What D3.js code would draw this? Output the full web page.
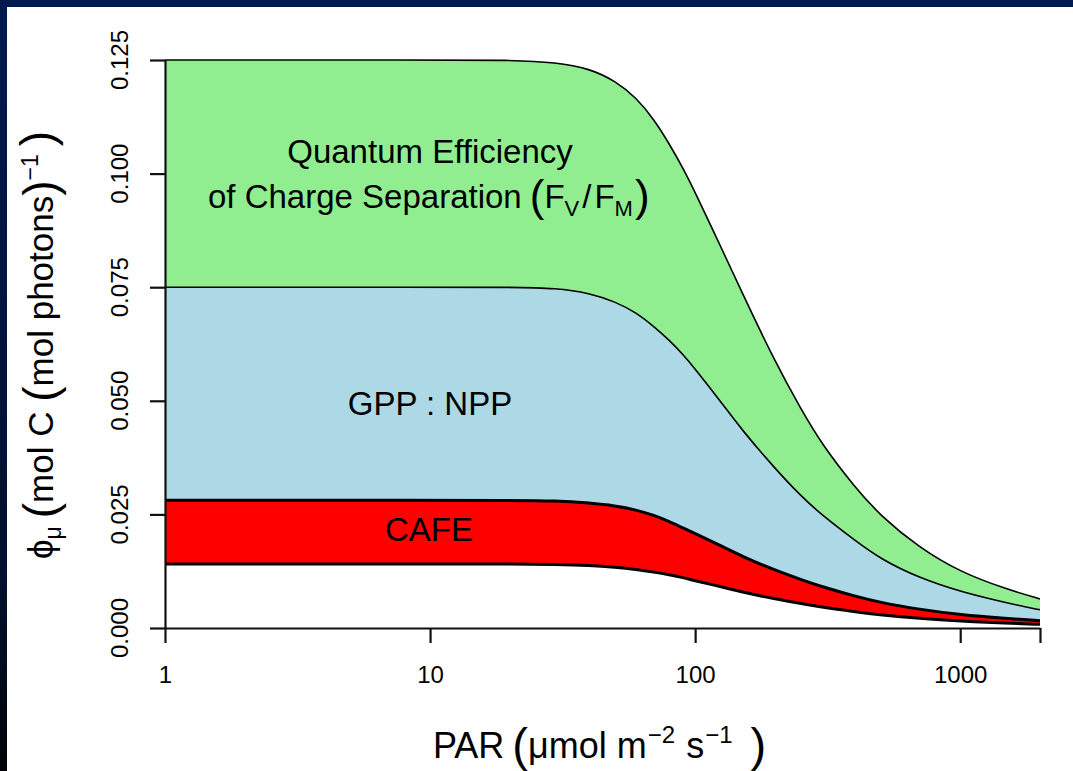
<!DOCTYPE html>
<html><head><meta charset="utf-8">
<script src="https://cdn.jsdelivr.net/npm/d3@7"></script>
<style>
body{margin:0;background:#fff}
svg{display:block}
text{font-family:"Liberation Sans",Arial,Helvetica,sans-serif;fill:#000}
</style></head>
<body><svg id="c" width="1073" height="771"></svg>
<script>
// ---- data ----
const par        = [1, 10, 20, 30, 40, 50, 60, 70, 80, 90, 100, 125, 150, 200, 250, 300, 400, 500, 700, 1000, 1500, 2000];
const fvfm       = [0.1250,0.1250,0.1250,0.1245,0.1231,0.1204,0.1167,0.1119,0.1065,0.1012,0.0959,0.0839,0.0739,0.0586,0.0483,0.0405,0.0310,0.0247,0.0177,0.0123,0.0085,0.0064];
const gppnpp     = [0.0750,0.0750,0.0750,0.0748,0.0737,0.0718,0.0694,0.0663,0.0633,0.0602,0.0570,0.0498,0.0436,0.0351,0.0291,0.0249,0.0193,0.0152,0.0110,0.0080,0.0055,0.0040];
const cafeTop    = [0.0281,0.0281,0.0281,0.0280,0.0275,0.0269,0.0260,0.0248,0.0234,0.0220,0.0208,0.0181,0.0158,0.0127,0.0107,0.0091,0.0070,0.0056,0.0041,0.0029,0.0021,0.0016];
const cafeBottom = [0.0141,0.0141,0.0141,0.0140,0.0138,0.0134,0.0129,0.0123,0.0117,0.0111,0.0104,0.0091,0.0079,0.0064,0.0054,0.0046,0.0036,0.0029,0.0021,0.0015,0.0011,0.0008];
const yTicks      = [0, 0.025, 0.05, 0.075, 0.1, 0.125];
const yTickLabels = ["0.000","0.025","0.050","0.075","0.100","0.125"];
const xTicks      = [1, 10, 100, 1000, 2000];
const xTickLabels = ["1","10","100","1000",""];

const svg = d3.select("#c");
// frame
const defs = svg.append("defs");
const g1 = defs.append("linearGradient").attr("id","lg").attr("x1",0).attr("y1",0).attr("x2",0).attr("y2",1);
g1.append("stop").attr("offset","0%").attr("stop-color","#001a50");
g1.append("stop").attr("offset","75%").attr("stop-color","#00102e");
g1.append("stop").attr("offset","100%").attr("stop-color","#000308");
svg.append("rect").attr("width",1073).attr("height",771).attr("fill","#fff");
svg.append("rect").attr("width",1073).attr("height",7).attr("fill","#001a50");
svg.append("rect").attr("width",7).attr("height",771).attr("fill","url(#lg)");

const x = d3.scaleLog().domain([1,2000]).range([165,1040]);
const y = d3.scaleLinear().domain([0,0.125]).range([628,60]);

function area(vals, color){
  const a = d3.area().x((d,i)=>x(par[i])).y0(y(0)).y1(d=>y(d)).curve(d3.curveBasis);
  svg.append("path").attr("d",a(vals)).attr("fill",color);
}
function line(vals, w){
  const l = d3.line().x((d,i)=>x(par[i])).y(d=>y(d)).curve(d3.curveBasis);
  svg.append("path").attr("d",l(vals)).attr("fill","none").attr("stroke","#000").attr("stroke-width",w);
}
area(fvfm,"#90EE90");
area(gppnpp,"#ADD8E6");
area(cafeTop,"#FF0000");
area(cafeBottom,"#FFFFFF");
line(fvfm,1.6);
line(gppnpp,1.6);
line(cafeTop,3);
line(cafeBottom,3);

// axes
const ya = svg.append("g").attr("transform","translate(165,0)")
  .call(d3.axisLeft(y).tickValues(yTicks).tickSize(15).tickSizeOuter(0).tickFormat(""));
const xa = svg.append("g").attr("transform","translate(0,628)")
  .call(d3.axisBottom(x).tickValues(xTicks).tickSize(15).tickSizeOuter(0).tickPadding(23)
    .tickFormat((d,i)=>xTickLabels[i]));
[ya,xa].forEach(a=>{
  a.selectAll("path,line").attr("stroke","#111").attr("stroke-width",2.2);
  a.selectAll("text").attr("font-size",24).attr("font-family","Liberation Sans, Arial, sans-serif").attr("fill","#000");
});
svg.append("g").selectAll("text").data(yTicks).join("text")
  .attr("transform",d=>`translate(128,${y(d)}) rotate(-90)`)
  .attr("text-anchor","middle").attr("font-size",24)
  .text((d,i)=>yTickLabels[i]);

// in-plot labels
svg.append("text").attr("x",430).attr("y",163).attr("text-anchor","middle").attr("font-size",33).text("Quantum Efficiency");
const t2 = svg.append("text").attr("x",208).attr("y",208).attr("font-size",33);
t2.append("tspan").text("of Charge Separation");
t2.append("tspan").attr("font-size",44).attr("dx",8).attr("dy",3).text("(");
t2.append("tspan").attr("dy",-3).text("F");
t2.append("tspan").attr("font-size",22).attr("dy",8).text("V");
t2.append("tspan").attr("dx",3).attr("dy",-8).attr("font-weight",300).text("/");
t2.append("tspan").attr("dx",3).text("F");
t2.append("tspan").attr("font-size",22).attr("dy",8).text("M");
t2.append("tspan").attr("font-size",44).attr("dx",2).attr("dy",-5).text(")");
svg.append("text").attr("x",430).attr("y",415).attr("text-anchor","middle").attr("font-size",33).text("GPP : NPP");
svg.append("text").attr("x",429).attr("y",541).attr("text-anchor","middle").attr("font-size",33).text("CAFE");

// x title
const xt = svg.append("text").attr("x",433).attr("y",758).attr("font-size",36);
xt.append("tspan").text("PAR");
xt.append("tspan").attr("font-size",47).attr("dx",8).attr("dy",3).text("(");
xt.append("tspan").attr("dy",-3).text("μmol");
xt.append("tspan").attr("dx",10).text("m");
xt.append("tspan").attr("font-size",24).attr("dx",1).attr("dy",-15).text("−2");
xt.append("tspan").attr("dx",11).attr("dy",15).text("s");
xt.append("tspan").attr("font-size",24).attr("dx",1).attr("dy",-15).text("−1");
xt.append("tspan").attr("font-size",47).attr("dx",18).attr("dy",18).text(")");

// y title
const yt = svg.append("text").attr("transform","translate(53,345) rotate(-90)").attr("text-anchor","middle").attr("font-size",35);
yt.append("tspan").text("ϕ");
yt.append("tspan").attr("font-size",23).attr("dy",8).text("μ");
yt.append("tspan").attr("font-size",46).attr("dx",8).attr("dy",-5).text("(");
yt.append("tspan").attr("dy",-3).text("mol C ");
yt.append("tspan").attr("font-size",46).attr("dy",3).text("(");
yt.append("tspan").attr("dy",-3).text("mol photons");
yt.append("tspan").attr("font-size",46).attr("dy",3).text(")");
yt.append("tspan").attr("font-size",23).attr("dy",-18).text("−1");
yt.append("tspan").attr("font-size",46).attr("dx",8).attr("dy",15).text(")");
</script>
</body></html>
